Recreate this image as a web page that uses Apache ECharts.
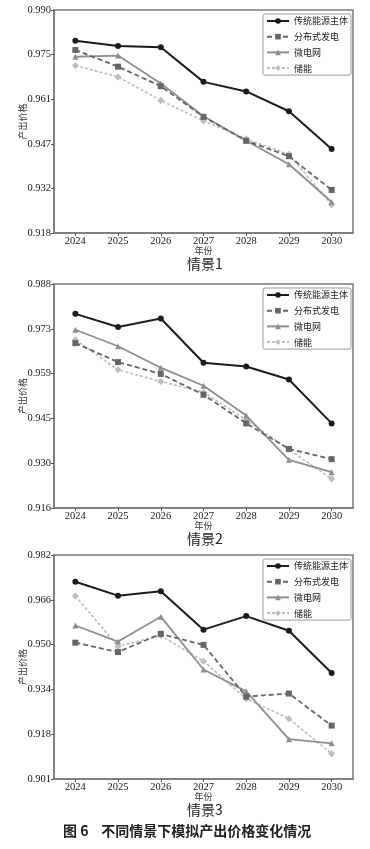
<!DOCTYPE html>
<html><head><meta charset="utf-8">
<script src="https://cdn.jsdelivr.net/npm/echarts@6/dist/echarts.min.js"></script>
<style>html,body{margin:0;padding:0;background:#fff}#c{width:370px;height:849px}</style>
</head><body><div id="c"></div>
<script>
var years = ['2024','2025','2026','2027','2028','2029','2030'];
var seriesNames = ['传统能源主体','分布式发电','微电网','储能'];

// 情景1
var s1_trad = [0.9801,0.9784,0.9780,0.9668,0.9637,0.9573,0.9451];
var s1_dist = [0.9771,0.9717,0.9654,0.9555,0.9478,0.9428,0.9319];
var s1_micro = [0.9749,0.9753,0.9663,0.9557,0.9478,0.9402,0.9280];
var s1_store = [0.9721,0.9684,0.9608,0.9542,0.9484,0.9434,0.9271];
var s1_ticks = ['0.918','0.932','0.947','0.961','0.975','0.990'];

// 情景2
var s2_trad = [0.9784,0.9742,0.9769,0.9627,0.9615,0.9573,0.9432];
var s2_dist = [0.9690,0.9629,0.9591,0.9524,0.9432,0.9350,0.9317];
var s2_micro = [0.9733,0.9680,0.9611,0.9553,0.9457,0.9315,0.9275];
var s2_store = [0.9701,0.9604,0.9567,0.9532,0.9443,0.9348,0.9254];
var s2_ticks = ['0.916','0.930','0.945','0.959','0.973','0.988'];

// 情景3
var s3_trad = [0.9723,0.9673,0.9689,0.9550,0.9599,0.9546,0.9393];
var s3_dist = [0.9503,0.9469,0.9535,0.9495,0.9308,0.9319,0.9203];
var s3_micro = [0.9565,0.9507,0.9597,0.9406,0.9327,0.9154,0.9139];
var s3_store = [0.9672,0.9489,0.9529,0.9436,0.9300,0.9228,0.9101];
var s3_ticks = ['0.901','0.918','0.934','0.950','0.966','0.982'];

var panels = [
  {data:[s1_trad,s1_dist,s1_micro,s1_store], ticks:s1_ticks, min:0.918, max:0.990, title:'情景1', top:10, h:223},
  {data:[s2_trad,s2_dist,s2_micro,s2_store], ticks:s2_ticks, min:0.916, max:0.988, title:'情景2', top:284, h:224},
  {data:[s3_trad,s3_dist,s3_micro,s3_store], ticks:s3_ticks, min:0.901, max:0.982, title:'情景3', top:555, h:224}
];

var styles = [
  {color:'#1c1c1c', type:'solid', symbol:'circle', size:6, width:2},
  {color:'#666666', type:[5,3], symbol:'rect', size:6, width:1.8},
  {color:'#8e8e8e', type:'solid', symbol:'triangle', size:6, width:1.8},
  {color:'#bdbdbd', type:[3,2], symbol:'diamond', size:7, width:1.6}
];

var serif = '"Liberation Serif","DejaVu Serif",serif';
var cjk = '"Noto Sans CJK SC","Noto Sans",sans-serif';

var grid=[], xAxis=[], yAxis=[], series=[], legend=[], graphic=[];
panels.forEach(function(p, i){
  grid.push({left:54, right:17, top:p.top, height:p.h, show:true, borderColor:'#7a7a7a', borderWidth:1.5});
  xAxis.push({type:'category', gridIndex:i, data:years, boundaryGap:true,
    axisLine:{show:true, lineStyle:{color:'#7a7a7a', width:1.5}},
    axisTick:{show:true, alignWithLabel:true, length:3, lineStyle:{color:'#555'}},
    axisLabel:{color:'#1a1a1a', fontFamily:serif, fontSize:10.5, margin:3},
    name:'年份', nameLocation:'middle', nameGap:13, nameMoveOverlap:false,
    nameTextStyle:{color:'#333', fontFamily:cjk, fontSize:9}});
  (function(pp){
    var interval = (pp.max-pp.min)/5;
    yAxis.push({type:'value', gridIndex:i, min:pp.min, max:pp.max, interval:interval,
      axisLine:{show:true, lineStyle:{color:'#7a7a7a', width:1.5}},
      axisTick:{show:true, length:3, lineStyle:{color:'#555'}},
      splitLine:{show:false},
      axisLabel:{color:'#1a1a1a', fontFamily:serif, fontSize:10.5, margin:3,
        formatter:function(v){var k=Math.round((v-pp.min)/interval); return pp.ticks[k]!==undefined?pp.ticks[k]:'';}},
      name:'产出价格', nameLocation:'middle', nameRotate:90, nameGap:27, nameMoveOverlap:false,
      nameTextStyle:{color:'#333', fontFamily:cjk, fontSize:9}});
  })(p);
  p.data.forEach(function(d, j){
    var st = styles[j];
    series.push({type:'line', name:seriesNames[j], xAxisIndex:i, yAxisIndex:i, data:d,
      symbol:st.symbol, symbolSize:st.size, z: 10-j,
      lineStyle:{color:st.color, width:st.width, type:st.type},
      itemStyle:{color:st.color}, emphasis:{disabled:true}, animation:false});
  });
  legend.push({orient:'vertical', left:263, top:p.top+4,
    data:seriesNames, itemWidth:22, itemHeight:7, itemGap:3.7,
    padding:[1,3,1,3], borderColor:'#9a9a9a', borderWidth:1, borderRadius:2,
    textStyle:{fontFamily:cjk, fontSize:9, lineHeight:12, color:'#222'}});
  graphic.push({type:'text', x:205, y:p.top+p.h+31,
    style:{text:p.title, font:'14px '+cjk, fill:'#222', textAlign:'center', textVerticalAlign:'middle'}});
});
graphic.push({type:'text', left:63, top:824,
  style:{text:'图 6    不同情景下模拟产出价格变化情况', font:'bold 14px '+cjk, fill:'#222'}});

var chart = echarts.init(document.getElementById('c'), null, {renderer:'canvas'});
chart.setOption({animation:false, backgroundColor:'#fff', grid:grid, xAxis:xAxis, yAxis:yAxis,
  series:series, legend:legend, graphic:graphic});
</script></body></html>
